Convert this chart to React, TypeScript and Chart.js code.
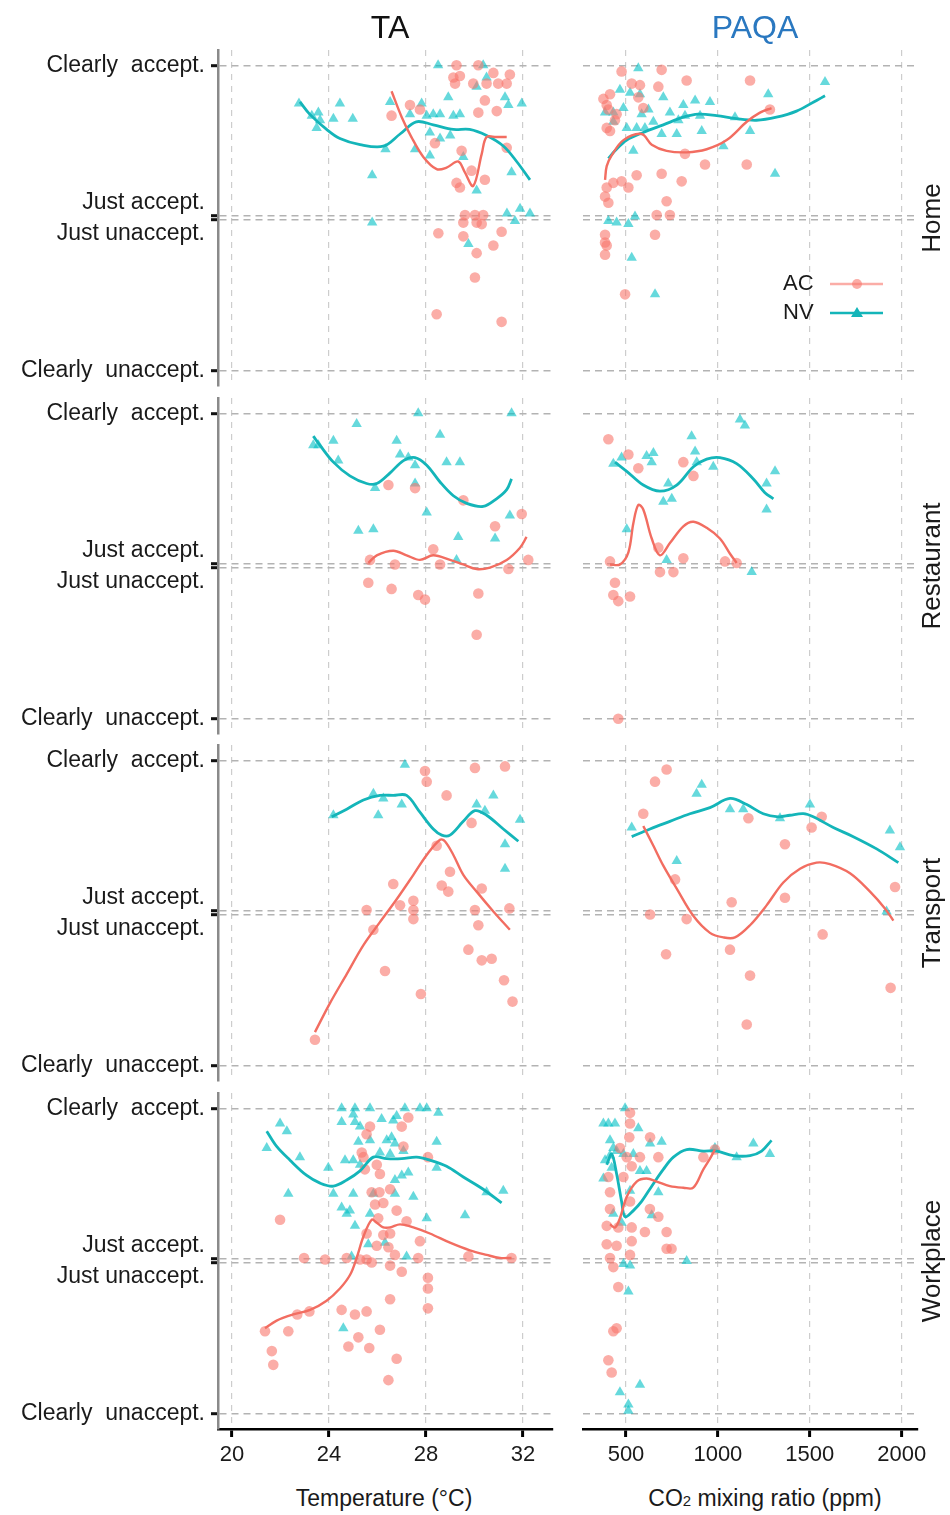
import React, { useEffect, useRef } from 'react';
import { Chart, registerables } from 'chart.js';

Chart.register(...registerables);

type P = [number, number];

// ---------- axis / category definitions ----------
const settings = ['Home', 'Restaurant', 'Transport', 'Workplace'];
const variables = ['TA', 'PAQA'];
const groups = ['AC', 'NV'];
const temperatureTicks = [20, 24, 28, 32];
const co2Ticks = [500, 1000, 1500, 2000];
const JUST = 0.013;
const ratingTicks = [-1, -JUST, JUST, 1];
const ratingLabels: (string | string[])[] = [
  'Clearly  unaccept.',
  ['', 'Just unaccept.'],
  ['Just accept.', ''],
  'Clearly  accept.',
];
const temperatureRange = [19.42, 33.24];
const co2Range = [266, 2089];
const ratingRange = [-1.1, 1.1];

// ---------- Home ----------
const homeTaAc: P[] = [[29.26,1.0],[30.16,1.0],[30.78,0.95],[29.13,0.92],[29.4,0.93],[29.2,0.88],[29.95,0.88],[30.5,0.88],[30.98,0.88],[31.33,0.88],[31.46,0.94],[30.43,0.77],[30.16,0.69],[30.92,0.7],[27.34,0.74],[26.58,0.67],[27.75,0.71],[28.37,0.49],[29.47,0.44],[29.88,0.31],[30.43,0.25],[29.26,0.23],[29.4,0.2],[31.33,0.46],[29.61,0.02],[30.02,0.02],[30.36,0.02],[29.54,-0.03],[30.09,-0.03],[30.3,-0.04],[28.51,-0.1],[29.54,-0.12],[31.12,-0.09],[30.78,-0.18],[30.09,-0.23],[30.02,-0.39],[28.44,-0.63],[31.12,-0.68]];
const homeTaNv: P[] = [[28.5,1.0],[30.36,1.0],[22.76,0.75],[23.29,0.67],[23.56,0.69],[23.63,0.64],[23.49,0.59],[24.18,0.65],[24.45,0.75],[24.98,0.65],[26.52,0.76],[27.34,0.68],[27.82,0.75],[28.03,0.67],[28.3,0.68],[28.58,0.68],[28.92,0.79],[29.13,0.67],[29.4,0.68],[28.16,0.56],[28.58,0.52],[29.0,0.54],[27.55,0.45],[28.16,0.41],[30.09,0.86],[30.5,0.92],[31.26,0.79],[31.4,0.74],[31.95,0.75],[26.33,0.45],[25.78,0.28],[30.09,0.18],[25.78,-0.03],[31.34,0.03],[31.88,0.06],[32.29,0.03],[31.67,-0.02],[29.75,-0.17],[31.53,0.3],[29.54,0.4]];
const homeTaAcLine: P[] = [[26.58,0.83],[27.0,0.66],[27.4,0.53],[27.89,0.4],[28.44,0.32],[28.85,0.33],[29.33,0.37],[29.6,0.3],[29.95,0.21],[30.3,0.42],[30.5,0.53],[30.9,0.53],[31.33,0.53]];
const homeTaNvLine: P[] = [[22.8,0.76],[23.2,0.68],[23.9,0.58],[24.45,0.52],[25.28,0.48],[26.24,0.47],[26.93,0.55],[27.6,0.63],[28.3,0.61],[29.13,0.58],[29.8,0.58],[30.5,0.54],[31.2,0.47],[31.74,0.37],[32.29,0.25]];

const homePaqaAc: P[] = [[476,0.96],[694,0.97],[830,0.9],[1175,0.9],[531,0.88],[576,0.87],[676,0.86],[377,0.78],[413,0.81],[567,0.79],[395,0.74],[404,0.71],[449,0.68],[594,0.72],[395,0.59],[413,0.57],[440,0.64],[821,0.42],[930,0.35],[1157,0.35],[558,0.28],[694,0.29],[803,0.24],[431,0.23],[476,0.24],[513,0.2],[395,0.2],[386,0.14],[404,0.1],[721,0.11],[667,0.02],[739,0.02],[658,-0.11],[386,-0.11],[386,-0.16],[395,-0.18],[386,-0.24],[495,-0.5],[1283,0.71]];
const homePaqaNv: P[] = [[567,0.98],[467,0.84],[522,0.82],[576,0.81],[386,0.69],[431,0.69],[486,0.72],[431,0.63],[504,0.59],[558,0.59],[603,0.59],[622,0.71],[585,0.68],[703,0.79],[739,0.69],[812,0.74],[821,0.67],[876,0.77],[903,0.67],[957,0.76],[785,0.64],[649,0.63],[694,0.55],[776,0.55],[912,0.57],[540,0.44],[1030,0.47],[1093,0.66],[1175,0.57],[1274,0.81],[1583,0.89],[1311,0.29],[404,-0.02],[449,-0.03],[513,-0.04],[549,0.01],[531,-0.26],[658,-0.5]];
const homePaqaAcLine: P[] = [[386,0.25],[395,0.34],[422,0.41],[486,0.51],[585,0.55],[640,0.48],[721,0.44],[830,0.43],[939,0.45],[1048,0.51],[1157,0.63],[1229,0.69],[1292,0.72]];
const homePaqaNvLine: P[] = [[404,0.39],[440,0.44],[504,0.51],[594,0.56],[703,0.61],[812,0.66],[894,0.68],[993,0.67],[1102,0.65],[1210,0.64],[1319,0.66],[1428,0.7],[1537,0.77],[1583,0.8]];

// ---------- Restaurant ----------
const restTaAc: P[] = [[26.45,0.53],[27.55,0.51],[29.54,0.43],[31.95,0.34],[30.85,0.26],[28.3,0.11],[25.69,0.04],[26.72,0.01],[28.58,0.01],[31.4,-0.02],[32.22,0.04],[25.62,-0.11],[26.58,-0.15],[27.68,-0.19],[27.96,-0.22],[30.16,-0.18],[30.09,-0.45]];
const restTaNv: P[] = [[27.68,1.0],[31.53,1.0],[25.14,0.93],[24.18,0.82],[23.35,0.79],[23.56,0.79],[26.79,0.82],[28.58,0.86],[24.38,0.69],[26.93,0.73],[27.27,0.71],[27.55,0.66],[28.85,0.68],[29.4,0.68],[25.9,0.51],[27.55,0.54],[28.03,0.35],[31.46,0.33],[25.21,0.23],[25.83,0.24],[29.33,0.19],[30.85,0.18],[29.26,0.04]];
const restTaAcLine: P[] = [[25.62,0.02],[25.97,0.07],[26.65,0.1],[27.2,0.07],[27.75,0.04],[28.3,0.07],[28.99,0.04],[29.54,0.01],[30.09,-0.02],[30.64,-0.01],[31.33,0.04],[31.88,0.12],[32.15,0.19]];
const restTaNvLine: P[] = [[23.35,0.85],[23.63,0.79],[24.18,0.68],[24.86,0.59],[25.55,0.54],[25.97,0.54],[26.52,0.61],[27.07,0.69],[27.55,0.71],[28.03,0.66],[28.58,0.55],[29.13,0.46],[29.68,0.41],[30.36,0.39],[30.91,0.44],[31.33,0.5],[31.53,0.57]];

const restPaqaAc: P[] = [[404,0.83],[513,0.73],[567,0.64],[812,0.68],[867,0.59],[676,0.12],[812,0.05],[413,0.03],[685,-0.04],[758,-0.04],[1039,0.03],[1102,0.02],[440,-0.11],[431,-0.19],[458,-0.23],[522,-0.2],[458,-1.0]];
const restPaqaNv: P[] = [[1120,0.96],[1147,0.92],[431,0.67],[476,0.71],[612,0.72],[649,0.74],[640,0.68],[857,0.85],[876,0.75],[885,0.68],[975,0.65],[730,0.54],[703,0.42],[749,0.44],[1311,0.62],[1265,0.37],[1265,0.54],[504,0.24],[721,0.04],[1184,-0.04]];
const restPaqaAcLine: P[] = [[413,0.01],[467,0.01],[513,0.09],[540,0.28],[567,0.4],[594,0.37],[640,0.18],[685,0.07],[739,0.15],[812,0.26],[867,0.29],[939,0.25],[1011,0.18],[1066,0.08],[1102,0.02]];
const restPaqaNvLine: P[] = [[440,0.68],[504,0.62],[594,0.53],[685,0.49],[776,0.53],[867,0.65],[939,0.7],[1011,0.71],[1102,0.67],[1193,0.57],[1256,0.48],[1302,0.44]];

// ---------- Transport ----------
const transTaAc: P[] = [[27.96,0.93],[28.03,0.86],[30.02,0.95],[31.26,0.96],[28.85,0.77],[29.88,0.59],[28.44,0.44],[28.99,0.27],[28.65,0.18],[28.92,0.14],[30.3,0.16],[26.65,0.19],[27.48,0.08],[26.93,0.05],[27.48,0.02],[27.48,-0.04],[25.55,0.02],[25.83,-0.11],[30.02,0.02],[30.16,-0.08],[31.44,0.03],[29.75,-0.24],[30.3,-0.31],[30.71,-0.3],[31.22,-0.44],[31.57,-0.58],[26.31,-0.38],[27.79,-0.53],[23.42,-0.83]];
const transTaNv: P[] = [[27.13,0.97],[25.83,0.78],[26.24,0.75],[26.03,0.64],[27.0,0.71],[30.09,0.71],[30.43,0.67],[30.78,0.77],[31.88,0.61],[31.26,0.45],[31.26,0.29],[24.18,0.64]];
const transTaAcLine: P[] = [[23.42,-0.78],[24.04,-0.59],[24.73,-0.4],[25.42,-0.21],[26.1,-0.06],[26.79,0.09],[27.48,0.25],[28.03,0.38],[28.58,0.48],[28.78,0.47],[29.13,0.38],[29.54,0.25],[30.09,0.14],[30.78,0.01],[31.46,-0.11]];
const transTaNvLine: P[] = [[24.11,0.63],[24.73,0.68],[25.42,0.74],[26.1,0.77],[26.65,0.77],[27.2,0.77],[27.75,0.66],[28.3,0.55],[28.65,0.51],[28.99,0.51],[29.54,0.6],[30.02,0.67],[30.5,0.64],[31.19,0.55],[31.81,0.47]];

const transPaqaAc: P[] = [[721,0.94],[658,0.86],[594,0.65],[1166,0.62],[1565,0.63],[1510,0.56],[1365,0.45],[767,0.22],[1365,0.1],[1075,0.07],[1964,0.17],[631,-0.01],[830,-0.04],[1570,-0.14],[718,-0.27],[1066,-0.24],[1175,-0.41],[1157,-0.73],[1940,-0.49]];
const transPaqaNv: P[] = [[912,0.84],[884,0.78],[1066,0.68],[1138,0.68],[531,0.56],[776,0.34],[1338,0.62],[1501,0.71],[1936,0.54],[1991,0.43],[1918,0.01]];
const transPaqaAcLine: P[] = [[594,0.57],[649,0.44],[703,0.31],[776,0.16],[867,-0.02],[957,-0.13],[1030,-0.16],[1093,-0.16],[1175,-0.08],[1265,0.05],[1356,0.2],[1447,0.29],[1537,0.33],[1610,0.32],[1719,0.26],[1828,0.14],[1909,0.03],[1955,-0.05]];
const transPaqaNvLine: P[] = [[531,0.5],[631,0.55],[739,0.6],[848,0.65],[957,0.69],[1066,0.75],[1157,0.71],[1247,0.65],[1329,0.63],[1392,0.64],[1465,0.65],[1519,0.63],[1628,0.56],[1737,0.5],[1864,0.42],[1982,0.33]];

// ---------- Workplace ----------
const workTaAc: P[] = [[25.69,0.88],[27.0,0.88],[27.27,0.94],[25.55,0.83],[27.07,0.75],[25.35,0.71],[25.42,0.68],[25.97,0.63],[25.48,0.6],[26.1,0.57],[28.08,0.68],[25.76,0.45],[26.08,0.45],[26.52,0.47],[25.9,0.37],[26.24,0.38],[26.79,0.33],[26.03,0.28],[27.2,0.26],[21.98,0.27],[25.55,0.18],[26.24,0.17],[26.52,0.18],[27.75,0.13],[25.97,0.1],[26.45,0.09],[26.72,0.04],[27.68,0.02],[29.75,0.03],[31.53,0.02],[22.97,0.02],[23.84,0.01],[24.73,0.02],[25.28,0.01],[25.55,0.01],[25.76,-0.01],[26.52,-0.03],[27.0,-0.07],[28.08,-0.11],[28.08,-0.18],[28.08,-0.31],[26.52,-0.25],[24.52,-0.32],[25.07,-0.35],[25.55,-0.33],[23.19,-0.33],[22.69,-0.35],[21.36,-0.46],[22.32,-0.46],[26.1,-0.45],[25.21,-0.5],[24.8,-0.56],[25.66,-0.57],[21.64,-0.59],[21.7,-0.68],[26.79,-0.64],[26.45,-0.78]];
const workTaNv: P[] = [[24.52,1.0],[25.07,1.0],[25.69,1.0],[27.13,1.0],[27.75,1.0],[28.03,1.0],[25.0,0.96],[24.52,0.91],[25.07,0.91],[26.17,0.93],[26.65,0.92],[26.79,0.95],[28.51,0.97],[21.98,0.9],[22.26,0.85],[21.43,0.74],[22.8,0.68],[25.28,0.88],[25.21,0.78],[25.69,0.79],[26.38,0.79],[26.58,0.81],[26.72,0.77],[27.07,0.72],[28.44,0.78],[26.1,0.71],[26.52,0.7],[24.66,0.66],[25.0,0.66],[23.97,0.61],[25.28,0.63],[28.44,0.61],[26.72,0.53],[27.0,0.56],[27.27,0.58],[22.32,0.44],[24.18,0.44],[25.0,0.44],[25.83,0.44],[26.72,0.44],[27.48,0.42],[24.52,0.35],[24.73,0.31],[24.86,0.33],[25.07,0.23],[25.69,0.31],[28.03,0.28],[29.61,0.3],[30.5,0.45],[31.19,0.46],[25.62,0.11],[26.31,0.12],[27.2,0.03],[24.93,0.03],[24.59,-0.44]];
const workTaAcLine: P[] = [[21.36,-0.44],[21.84,-0.39],[22.52,-0.35],[23.22,-0.32],[23.9,-0.26],[24.45,-0.18],[24.87,-0.09],[25.14,0.02],[25.42,0.16],[25.76,0.27],[25.97,0.25],[26.24,0.22],[26.52,0.22],[26.93,0.24],[27.48,0.22],[28.16,0.18],[28.99,0.12],[29.81,0.07],[30.5,0.04],[31.05,0.02],[31.53,0.02]];
const workTaNvLine: P[] = [[21.43,0.85],[21.84,0.75],[22.39,0.66],[23.08,0.56],[23.63,0.51],[24.18,0.49],[24.73,0.53],[25.28,0.59],[25.83,0.68],[26.38,0.67],[27.0,0.67],[27.62,0.68],[28.16,0.66],[28.85,0.62],[29.54,0.55],[30.36,0.47],[31.12,0.38]];

const workPaqaAc: P[] = [[522,0.97],[522,0.9],[518,0.81],[631,0.81],[467,0.74],[504,0.68],[576,0.68],[676,0.68],[531,0.62],[404,0.55],[486,0.55],[413,0.45],[522,0.39],[630,0.34],[676,0.29],[413,0.34],[395,0.23],[458,0.22],[531,0.22],[603,0.19],[721,0.19],[395,0.11],[449,0.1],[531,0.13],[522,0.04],[721,0.08],[748,0.08],[413,0.02],[431,-0.04],[458,-0.17],[431,-0.46],[449,-0.44],[404,-0.65],[422,-0.73],[921,0.68],[984,0.73]];
const workPaqaNv: P[] = [[495,1.0],[377,0.9],[404,0.9],[440,0.9],[567,0.87],[694,0.78],[631,0.77],[413,0.79],[431,0.74],[386,0.66],[413,0.69],[422,0.61],[377,0.54],[449,0.72],[486,0.7],[540,0.7],[522,0.46],[676,0.45],[612,0.59],[576,0.59],[431,0.31],[640,0.3],[476,0.25],[830,0.0],[486,-0.02],[522,-0.03],[513,-0.2],[576,-0.81],[467,-0.86],[513,-0.94],[513,-0.98],[1193,0.77],[1283,0.7],[1102,0.68],[984,0.74]];
const workPaqaAcLine: P[] = [[413,0.24],[440,0.22],[467,0.28],[504,0.42],[558,0.52],[612,0.54],[667,0.52],[739,0.49],[812,0.48],[866,0.48],[921,0.6],[957,0.67],[984,0.73]];
const workPaqaNvLine: P[] = [[395,0.63],[422,0.7],[449,0.57],[476,0.39],[495,0.29],[540,0.33],[585,0.39],[640,0.49],[703,0.6],[758,0.68],[830,0.73],[921,0.72],[993,0.72],[1084,0.69],[1175,0.69],[1238,0.72],[1292,0.79]];

// table of panels built from the arrays above: [row][col]
const panelData = [
  [
    { ac: homeTaAc, nv: homeTaNv, acLine: homeTaAcLine, nvLine: homeTaNvLine },
    { ac: homePaqaAc, nv: homePaqaNv, acLine: homePaqaAcLine, nvLine: homePaqaNvLine },
  ],
  [
    { ac: restTaAc, nv: restTaNv, acLine: restTaAcLine, nvLine: restTaNvLine },
    { ac: restPaqaAc, nv: restPaqaNv, acLine: restPaqaAcLine, nvLine: restPaqaNvLine },
  ],
  [
    { ac: transTaAc, nv: transTaNv, acLine: transTaAcLine, nvLine: transTaNvLine },
    { ac: transPaqaAc, nv: transPaqaNv, acLine: transPaqaAcLine, nvLine: transPaqaNvLine },
  ],
  [
    { ac: workTaAc, nv: workTaNv, acLine: workTaAcLine, nvLine: workTaNvLine },
    { ac: workPaqaAc, nv: workPaqaNv, acLine: workPaqaAcLine, nvLine: workPaqaNvLine },
  ],
];

// ---------- styling ----------
const FONT = '"Liberation Sans", Arial, Helvetica, sans-serif';
const AC_POINT = 'rgba(248,118,109,0.6)';
const NV_POINT = 'rgba(0,191,196,0.6)';
const AC_LINE = '#F26D61';
const NV_LINE = '#14B5B9';
const PAQA_BLUE = '#2A78C0';

const ROW_TOP = [50, 398, 745, 1093];
const PANEL_H = 336;
const PAD = 12;
const COLS = [
  { left: 0, width: 566, axisW: 218, plotRight: 553 },
  { left: 570, width: 380, axisW: 13, plotRight: 348 },
];

const toXY = (arr: P[]) => arr.map(([x, y]) => ({ x, y }));

function Panel({ row, col }: { row: number; col: number }) {
  const ref = useRef<HTMLCanvasElement>(null);
  const isLeft = col === 0;
  const isBottom = row === settings.length - 1;
  const c = COLS[col];
  const bottomExtra = isBottom ? 52 : PAD;
  const height = PAD + PANEL_H + bottomExtra;
  const top = ROW_TOP[row] - PAD;

  useEffect(() => {
    const d = panelData[row][col];
    const xTicks = isLeft ? temperatureTicks : co2Ticks;
    const xr = isLeft ? temperatureRange : co2Range;
    const chart = new Chart(ref.current as HTMLCanvasElement, {
      type: 'scatter',
      data: {
        datasets: [
          {
            type: 'line',
            label: groups[0] + ' trend',
            data: toXY(d.acLine),
            borderColor: AC_LINE,
            borderWidth: 2.4,
            pointRadius: 0,
            tension: 0.35,
            fill: false,
            order: 0,
          } as any,
          {
            type: 'line',
            label: groups[1] + ' trend',
            data: toXY(d.nvLine),
            borderColor: NV_LINE,
            borderWidth: 2.8,
            pointRadius: 0,
            tension: 0.35,
            fill: false,
            order: 0,
          } as any,
          {
            label: groups[0],
            data: toXY(d.ac),
            pointStyle: 'circle',
            pointRadius: 5.3,
            backgroundColor: AC_POINT,
            borderWidth: 0,
            order: 1,
          },
          {
            label: groups[1],
            data: toXY(d.nv),
            pointStyle: 'triangle',
            pointRadius: 6,
            backgroundColor: NV_POINT,
            borderWidth: 0,
            order: 1,
          },
        ],
      },
      options: {
        responsive: false,
        animation: false,
        events: [],
        layout: {
          padding: { top: PAD, right: c.width - c.plotRight, bottom: isBottom ? 0 : PAD, left: 0 },
        },
        plugins: { legend: { display: false }, tooltip: { enabled: false } },
        scales: {
          x: {
            type: 'linear',
            min: xr[0],
            max: xr[1],
            afterBuildTicks: (s: any) => {
              s.ticks = xTicks.map((v) => ({ value: v }));
            },
            afterFit: (s: any) => {
              s.height = isBottom ? 52 : 0;
              s.paddingLeft = 0;
              s.paddingRight = 0;
              s.paddingTop = 0;
              s.paddingBottom = 0;
            },
            grid: {
              color: '#cdcdcd',
              lineWidth: 1.2,
              drawTicks: isBottom,
              tickLength: 8,
              tickColor: '#000',
              tickWidth: 3,
            },
            border: { display: isBottom, color: '#000', width: 2.5, dash: [6, 6] },
            ticks: {
              display: isBottom,
              autoSkip: false,
              maxRotation: 0,
              padding: 5,
              color: '#1a1a1a',
              font: { family: FONT, size: 22 },
              callback: (v: any) => String(v),
            },
          },
          y: {
            type: 'linear',
            min: ratingRange[0],
            max: ratingRange[1],
            afterBuildTicks: (s: any) => {
              s.ticks = ratingTicks.map((v) => ({ value: v }));
            },
            afterFit: (s: any) => {
              s.width = c.axisW;
              s.paddingLeft = 0;
              s.paddingRight = 0;
              s.paddingTop = 0;
              s.paddingBottom = 0;
            },
            grid: {
              color: '#b3b3b3',
              lineWidth: 1.4,
              drawTicks: isLeft,
              tickLength: 7,
              tickColor: '#111',
              tickWidth: 3,
            },
            border: { display: isLeft, color: '#8a8a8a', width: 2.5, dash: [7, 5] },
            ticks: {
              display: isLeft,
              autoSkip: false,
              padding: 6,
              color: '#1a1a1a',
              font: { family: FONT, size: 23, lineHeight: 1.2 },
              callback: (_v: any, i: number) => ratingLabels[i],
            },
          },
        },
      } as any,
    });
    return () => chart.destroy();
  }, []);

  return (
    <canvas
      ref={ref}
      width={c.width}
      height={height}
      style={{ position: 'absolute', left: c.left, top, width: c.width, height }}
    />
  );
}

const textBase: React.CSSProperties = {
  position: 'absolute',
  fontFamily: FONT,
  whiteSpace: 'nowrap',
  color: '#1a1a1a',
  lineHeight: 1,
};

function Legend() {
  return (
    <>
      <div style={{ ...textBase, left: 783, top: 272, fontSize: 22 }}>{groups[0]}</div>
      <svg style={{ position: 'absolute', left: 828, top: 274 }} width={58} height={20}>
        <line x1={2} y1={10} x2={55} y2={10} stroke={AC_POINT} strokeWidth={2.4} />
        <circle cx={29} cy={10} r={5} fill={AC_POINT} />
      </svg>
      <div style={{ ...textBase, left: 783, top: 301, fontSize: 22 }}>{groups[1]}</div>
      <svg style={{ position: 'absolute', left: 828, top: 303 }} width={58} height={20}>
        <line x1={2} y1={10} x2={55} y2={10} stroke={NV_LINE} strokeWidth={2.4} />
        <polygon points="29,4 35,14 23,14" fill={NV_LINE} />
      </svg>
    </>
  );
}

export default function App() {
  const facetCenters = [218, 566, 913, 1261];
  return (
    <div style={{ position: 'absolute', left: 0, top: 0, width: 950, height: 1515, background: '#fff', overflow: 'hidden' }}>
      {settings.map((_, r) =>
        variables.map((__, c) => <Panel key={r + '-' + c} row={r} col={c} />)
      )}
      <div style={{ ...textBase, left: 390, top: 27, fontSize: 32, transform: 'translate(-50%,-50%)', color: '#111' }}>
        {variables[0]}
      </div>
      <div style={{ ...textBase, left: 755, top: 27, fontSize: 32, transform: 'translate(-50%,-50%)', color: PAQA_BLUE }}>
        {variables[1]}
      </div>
      {settings.map((s, i) => (
        <div
          key={s}
          style={{
            ...textBase,
            left: 931,
            top: facetCenters[i],
            fontSize: 26,
            transform: 'translate(-50%,-50%) rotate(-90deg)',
          }}
        >
          {s}
        </div>
      ))}
      <div style={{ ...textBase, left: 384, top: 1498, fontSize: 23, transform: 'translate(-50%,-50%)' }}>
        Temperature (°C)
      </div>
      <div style={{ ...textBase, left: 765, top: 1498, fontSize: 23, transform: 'translate(-50%,-50%)' }}>
        CO<span style={{ fontSize: 15 }}>2</span> mixing ratio (ppm)
      </div>
      <Legend />
    </div>
  );
}
